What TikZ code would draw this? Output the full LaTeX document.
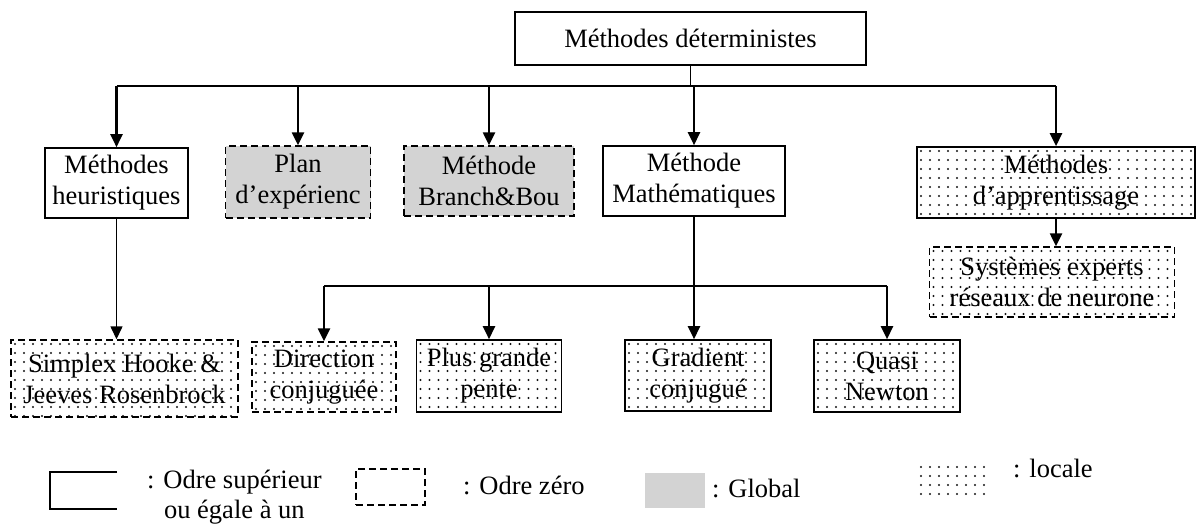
\documentclass[tikz,border=0pt]{standalone}
\usepackage{fontspec}
\setmainfont{Liberation Serif}
\usetikzlibrary{arrows.meta}
\definecolor{globalgray}{RGB}{211,211,211}
\definecolor{dotcol}{RGB}{20,20,20}

\begin{document}
\begin{tikzpicture}[x=1pt,y=-1pt,
  every node/.style={font=\fontsize{26.5}{31}\selectfont, align=center, inner sep=0pt},
  solidbox/.style={draw, line width=1.6pt},
  dashbox/.style={draw, line width=1.4pt, dash pattern=on 7pt off 4pt},
  globalfill/.style={fill=globalgray},
  dotfill/.style={path picture={
    \foreach \xx in {4,13,...,292} {\foreach \yy in {4,13,...,85} {
      \fill[dotcol] ([shift={(\xx pt,-\yy pt)}]path picture bounding box.north west) circle[radius=1.1pt];}}}},
  bus/.style={line width=2.8pt},
  drop/.style={line width=2.4pt, -{Triangle[length=13pt,width=12pt]}},
  thinarrow/.style={line width=1.4pt, -{Triangle[length=13pt,width=12pt]}},
  legline/.style={line width=1.6pt}]

\useasboundingbox (0,0) rectangle (1198,526);

% root
\node[solidbox, minimum width=351pt, minimum height=53pt] (top) at (690.5,38.5) {Méthodes déterministes};

% first level
\node[solidbox, minimum width=143pt, minimum height=70pt] (heur) at (116.5,183) {Méthodes\\heuristiques};
\node[dashbox, globalfill, minimum width=145pt, minimum height=72pt] (plan) at (298,182) {Plan\\d’expérienc};
\node[dashbox, globalfill, minimum width=170pt, minimum height=70pt] (branch) at (489,181) {Méthode\\Branch\&Bou};
\node[solidbox, minimum width=182pt, minimum height=70pt] (math) at (694,181) {Méthode\\Mathématiques};
\node[solidbox, dotfill, minimum width=278pt, minimum height=71pt] (appr) at (1056,182.5) {Méthodes\\d’apprentissage};

% second level
\node[dashbox, dotfill, minimum width=245pt, minimum height=70pt] (sys) at (1052,282) {Systèmes experts\\réseaux de neurone};
\node[dashbox, dotfill, minimum width=227pt, minimum height=77pt] (simplex) at (124.5,378.5) {Simplex Hooke \&\\Jeeves Rosenbrock};
\node[dashbox, dotfill, minimum width=144pt, minimum height=70pt] (dir) at (324,377) {Direction\\conjuguée};
\node[solidbox, dotfill, minimum width=145pt, minimum height=72pt] (plus) at (489,376) {Plus grande\\pente};
\node[solidbox, dotfill, minimum width=146pt, minimum height=71pt] (grad) at (698,375.5) {Gradient\\conjugué};
\node[solidbox, dotfill, minimum width=146pt, minimum height=72pt] (quasi) at (887,376) {Quasi\\Newton};

% distribution lines
\coordinate (busA) at (0,86);
\coordinate (busB) at (0,286);

\draw[line width=1.8pt] (top.south) -- (top.south |- busA);
\draw[bus] (heur.north |- busA) -- (appr.north |- busA);
\foreach \n in {heur,plan,branch,math,appr}
  \draw[drop] (\n.north |- busA) -- (\n.north);

\draw[thinarrow] (heur.south) -- (heur.south |- simplex.north);
\draw[drop] (appr.south) -- (appr.south |- sys.north);

\draw[drop] (math.south) -- (math.south |- grad.north);
\draw[bus] (dir.north |- busB) -- (quasi.north |- busB);
\foreach \n in {dir,plus,quasi}
  \draw[drop] (\n.north |- busB) -- (\n.north);

% legend
\node[minimum width=67pt, minimum height=37pt] (legsolid) at (83.5,490.5) {};
\draw[legline] (legsolid.north east) -- (legsolid.north west) -- (legsolid.south west) -- (legsolid.south east);
\node[anchor=west, font=\fontsize{26.5}{30}\selectfont] (legsolidtxt) at (147,497) {: Odre supérieur\\ou égale à un};

\node[dashbox, minimum width=69pt, minimum height=36pt] (legdash) at (390.5,487) {};
\node[anchor=west] (legdashtxt) at (463,485) {: Odre zéro};

\node[globalfill, minimum width=60pt, minimum height=35pt] (leggray) at (675,490.5) {};
\node[anchor=west] (leggraytxt) at (712,488) {: Global};

\node[dotfill, minimum width=70pt, minimum height=35pt] (legdot) at (952,480.5) {};
\node[anchor=west] (legdottxt) at (1013,468) {: locale};

\end{tikzpicture}
\end{document}
